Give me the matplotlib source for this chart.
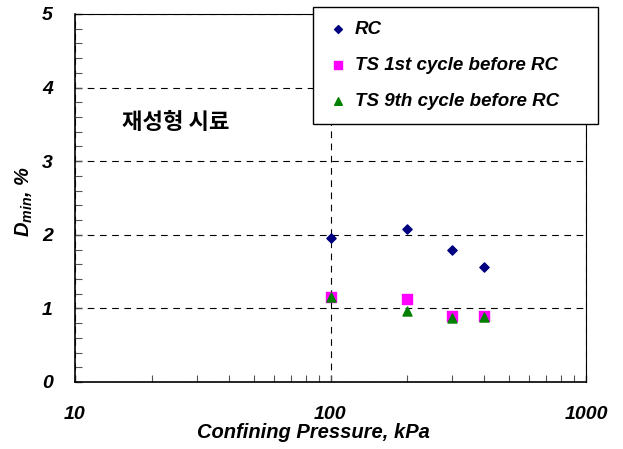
import matplotlib
matplotlib.use("Agg")
import matplotlib.pyplot as plt
from matplotlib.ticker import MultipleLocator, LogLocator, NullFormatter, FixedLocator

pressure = [100, 200, 300, 400]
rc = [1.96, 2.08, 1.79, 1.56]
ts_1st = [1.16, 1.13, 0.90, 0.90]
ts_9th = [1.15, 0.96, 0.87, 0.88]

labels = ["RC", "TS 1st cycle before RC", "TS 9th cycle before RC"]
xticks = [10, 100, 1000]

plt.rcParams["font.family"] = ["Liberation Sans", "DejaVu Sans"]
plt.rcParams["mathtext.default"] = "regular"

W, H = 623, 449
L, R, T, B = 75, 586, 14, 382

fig = plt.figure(figsize=(W / 100, H / 100), dpi=100)
ax = fig.add_axes([L / W, 1 - B / H, (R - L) / W, (B - T) / H])

ax.scatter(pressure, rc, marker="D", s=22, color="#000080", label=labels[0], zorder=3)
ax.scatter(pressure, ts_1st, marker="s", s=42, color="#FF00FF", label=labels[1], zorder=3)
ax.scatter(pressure, ts_9th, marker="^", s=42, color="#008000", label=labels[2], zorder=4)

ax.set_xscale("log")
ax.set_xlim(10, 1000)
ax.set_ylim(0, 5)
ax.yaxis.set_major_locator(MultipleLocator(1))
ax.yaxis.set_minor_locator(MultipleLocator(0.2))
ax.xaxis.set_major_locator(FixedLocator(xticks))
ax.xaxis.set_minor_locator(LogLocator(base=10, subs=range(2, 10)))
ax.xaxis.set_minor_formatter(NullFormatter())
ax.set_xticklabels([str(v) for v in xticks])

for s in ["top", "right", "left", "bottom"]:
    ax.spines[s].set_linewidth(1.2)
    ax.spines[s].set_color("black")
ax.spines["top"].set_linewidth(0.8)
ax.spines["right"].set_linewidth(0.8)

ax.tick_params(axis="both", which="both", direction="in", top=False, right=False,
               color="#555555")
ax.tick_params(axis="both", which="major", length=5, width=1.0)
ax.tick_params(axis="both", which="minor", length=5, width=0.8)
ax.tick_params(axis="x", which="major", pad=17)
ax.tick_params(axis="y", which="major", pad=16)

for t in ax.get_xticklabels() + ax.get_yticklabels():
    t.set_fontsize(14)
    t.set_fontweight("bold")
    t.set_fontstyle("italic")

ax.yaxis.grid(True, which="major", linestyle=(0, (6, 5)), color="black", linewidth=0.8)
ax.xaxis.grid(True, which="major", linestyle=(0, (6, 5)), color="black", linewidth=0.8)
ax.set_axisbelow(True)

ax.set_xlabel("Confining Pressure, kPa", fontsize=14.5, fontweight="bold",
              fontstyle="italic", va="center")
ax.xaxis.set_label_coords((313 - L) / (R - L), -(433 - B) / (B - T))
ax.set_ylabel("D$_{min}$, %", fontsize=14.5, fontweight="bold",
              fontstyle="italic", va="center")
ax.yaxis.set_label_coords(-(L - 24) / (R - L), (B - 202) / (B - T))

ax.text(15.3, 3.52, "재성형 시료", fontsize=16, fontweight="bold",
        family=["Noto Sans CJK KR", "DejaVu Sans"], ha="left", va="center")

leg = ax.legend(loc="upper left", mode="expand",
                bbox_to_anchor=((313 - L) / (R - L), 1 + (T - 7) / (B - T),
                                (598 - 313) / (R - L), 0),
                frameon=True, fancybox=False, edgecolor="black", framealpha=1,
                prop={"weight": "bold", "style": "italic", "size": 13.5},
                handletextpad=0.33, labelspacing=1.0, borderpad=0.75,
                handlelength=1.15, borderaxespad=0, markerscale=0.85)
leg.get_frame().set_linewidth(1.0)
leg.set_clip_on(False)

fig.savefig("out.png", dpi=100)
